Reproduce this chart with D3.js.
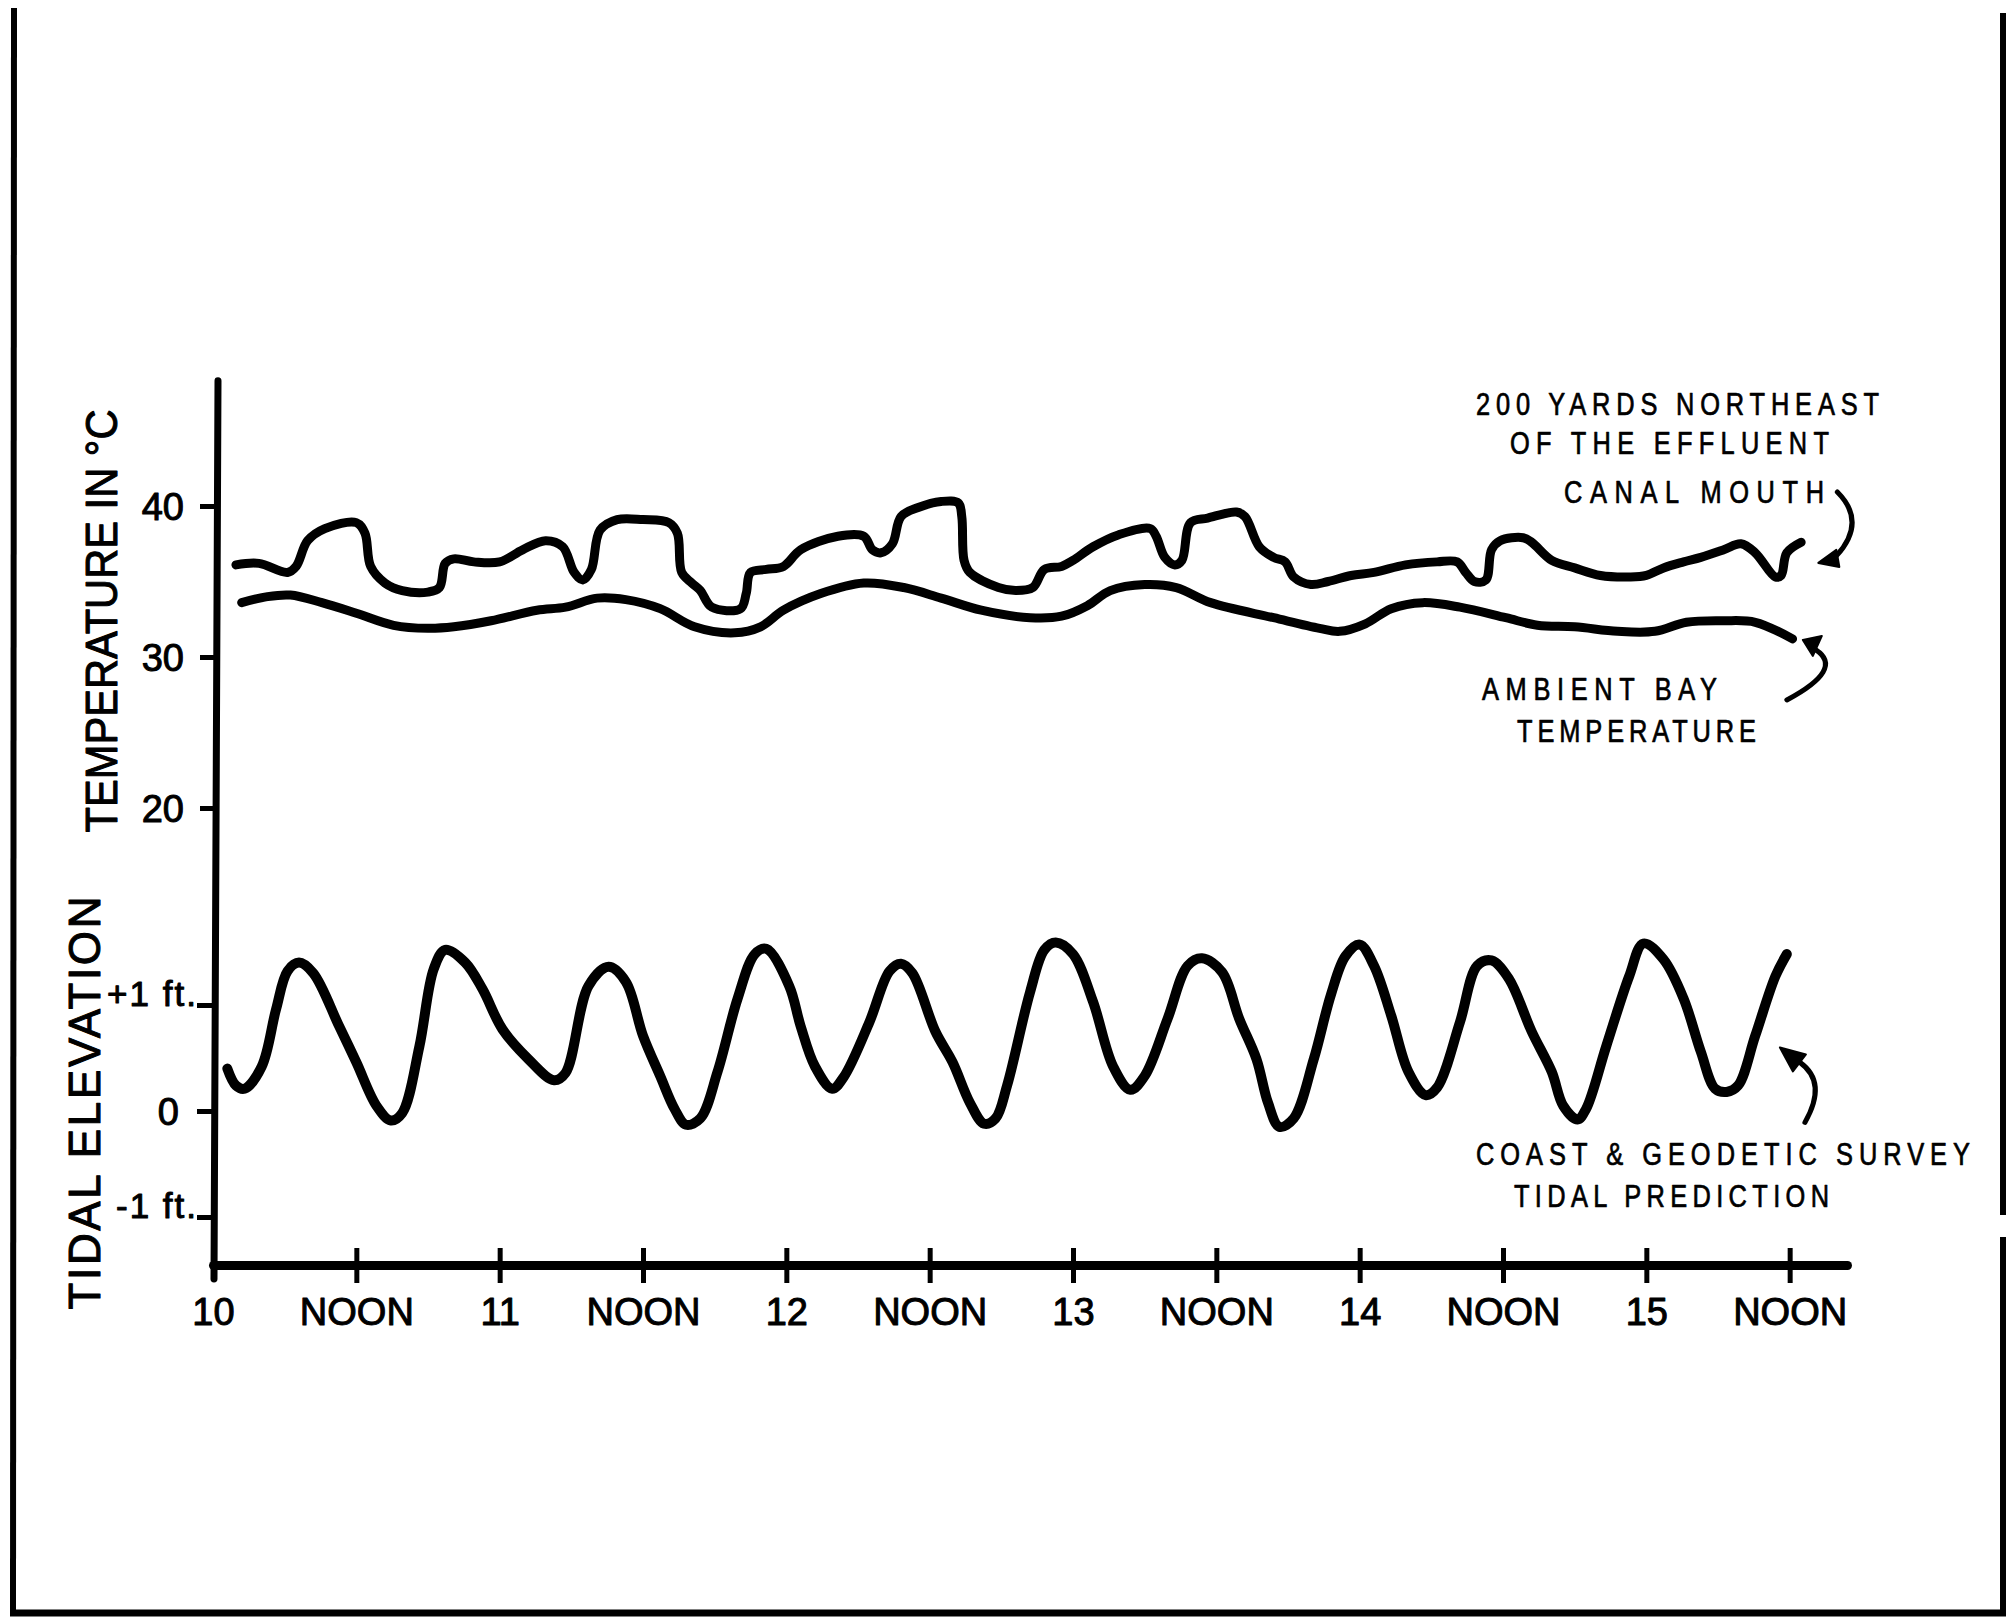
<!DOCTYPE html>
<html>
<head>
<meta charset="utf-8">
<script src="https://cdn.jsdelivr.net/npm/d3@7"></script>
<style>
  html, body { margin: 0; padding: 0; background: #fff; }
  svg { display: block; }
</style>
</head>
<body>
<script>
// ---- Data -------------------------------------------------------------
// Time is in days of the month (10.5 = noon on the 10th).
const xTickValues = [10, 10.5, 11, 11.5, 12, 12.5, 13, 13.5, 14, 14.5, 15, 15.5];
const xTickLabels = ["10", "NOON", "11", "NOON", "12", "NOON", "13", "NOON", "14", "NOON", "15", "NOON"];

const tempTickValues = [20, 30, 40];
const tideTickValues = [-1, 0, 1];
const tideTickLabels = ["-1 ft.", "0", "+1 ft."];

// Water temperature (°C), 200 yards northeast of the effluent canal mouth
const effluentTemp = [
  [10.08, 36.1], [10.16, 36.2], [10.26, 35.6], [10.29, 36.0], [10.33, 37.7], [10.39, 38.5],
  [10.50, 38.9], [10.53, 38.2], [10.55, 36.0], [10.60, 34.9], [10.66, 34.4], [10.75, 34.3],
  [10.79, 34.6], [10.81, 36.2], [10.84, 36.5], [10.91, 36.3], [11.00, 36.3], [11.08, 37.1],
  [11.16, 37.7], [11.22, 37.3], [11.26, 35.6], [11.29, 35.1], [11.32, 35.8], [11.35, 38.4],
  [11.41, 39.1], [11.50, 39.1], [11.59, 38.9], [11.62, 38.2], [11.635, 35.6], [11.67, 34.9],
  [11.70, 34.4], [11.74, 33.3], [11.84, 33.2], [11.86, 34.2], [11.875, 35.6], [11.93, 35.8],
  [11.99, 36.0], [12.05, 37.1], [12.18, 38.0], [12.27, 38.0], [12.30, 37.1], [12.33, 36.9],
  [12.37, 37.5], [12.40, 39.3], [12.46, 39.9], [12.54, 40.3], [12.60, 40.2], [12.612, 39.3],
  [12.62, 36.4], [12.64, 35.6], [12.74, 34.6], [12.80, 34.4], [12.86, 34.6], [12.90, 35.8],
  [12.96, 36.0], [13.00, 36.4], [13.07, 37.3], [13.16, 38.1], [13.27, 38.5], [13.29, 38.0],
  [13.32, 36.6], [13.355, 36.1], [13.38, 36.4], [13.41, 38.9], [13.47, 39.2], [13.57, 39.6],
  [13.60, 39.3], [13.65, 37.3], [13.70, 36.6], [13.74, 36.3], [13.77, 35.3], [13.83, 34.8],
  [13.89, 35.0], [13.97, 35.4], [14.05, 35.6], [14.16, 36.1], [14.27, 36.3], [14.34, 36.3],
  [14.37, 35.6], [14.40, 35.0], [14.44, 35.1], [14.46, 37.1], [14.49, 37.7], [14.57, 37.9],
  [14.60, 37.6], [14.67, 36.4], [14.75, 35.9], [14.84, 35.4], [14.94, 35.3], [15.00, 35.4],
  [15.06, 35.9], [15.13, 36.3], [15.19, 36.6], [15.27, 37.1], [15.33, 37.5], [15.38, 36.9],
  [15.45, 35.3], [15.47, 35.4], [15.49, 36.9], [15.54, 37.6]
];

// Ambient bay temperature (°C)
const ambientTemp = [
  [10.10, 33.6], [10.19, 34.0], [10.27, 34.1], [10.38, 33.6], [10.50, 32.9], [10.63, 32.1],
  [10.75, 31.9], [10.84, 32.0], [10.97, 32.4], [11.13, 33.1], [11.23, 33.3], [11.34, 33.9],
  [11.44, 33.8], [11.56, 33.2], [11.68, 32.0], [11.82, 31.6], [11.91, 32.0], [11.99, 33.1],
  [12.12, 34.2], [12.27, 34.9], [12.41, 34.6], [12.54, 33.9], [12.68, 33.1], [12.85, 32.6],
  [12.96, 32.7], [13.05, 33.4], [13.13, 34.4], [13.25, 34.8], [13.36, 34.6], [13.48, 33.6],
  [13.70, 32.6], [13.86, 31.9], [13.93, 31.7], [14.02, 32.2], [14.11, 33.2], [14.22, 33.6],
  [14.35, 33.3], [14.51, 32.6], [14.62, 32.1], [14.75, 32.0], [14.90, 31.7], [15.03, 31.7],
  [15.14, 32.3], [15.27, 32.4], [15.38, 32.3], [15.51, 31.2]
];

// Coast & Geodetic Survey tidal prediction (ft)
const tidalElevation = [
  [10.05, 0.40], [10.08, 0.24], [10.11, 0.21], [10.17, 0.42], [10.22, 0.96], [10.26, 1.32],
  [10.30, 1.40], [10.35, 1.30], [10.44, 0.80], [10.50, 0.46], [10.57, 0.05], [10.62, -0.09],
  [10.66, -0.02], [10.72, 0.61], [10.77, 1.34], [10.81, 1.52], [10.88, 1.40], [10.94, 1.15],
  [11.01, 0.77], [11.10, 0.49], [11.19, 0.29], [11.23, 0.36], [11.31, 1.18], [11.38, 1.36],
  [11.44, 1.22], [11.50, 0.71], [11.56, 0.33], [11.61, 0.02], [11.65, -0.13], [11.70, -0.07],
  [11.76, 0.37], [11.83, 1.06], [11.89, 1.48], [11.93, 1.53], [12.01, 1.18], [12.05, 0.80],
  [12.10, 0.42], [12.16, 0.21], [12.20, 0.32], [12.29, 0.84], [12.36, 1.32], [12.40, 1.39],
  [12.44, 1.30], [12.52, 0.75], [12.58, 0.46], [12.64, 0.08], [12.69, -0.12], [12.73, -0.07],
  [12.77, 0.24], [12.85, 1.12], [12.90, 1.52], [12.94, 1.59], [13.00, 1.48], [13.07, 1.03],
  [13.14, 0.42], [13.20, 0.20], [13.25, 0.33], [13.33, 0.87], [13.40, 1.37], [13.45, 1.44],
  [13.52, 1.31], [13.58, 0.87], [13.64, 0.49], [13.68, 0.08], [13.72, -0.15], [13.77, -0.07],
  [13.84, 0.49], [13.90, 1.10], [13.95, 1.46], [14.00, 1.57], [14.05, 1.37], [14.11, 0.90],
  [14.17, 0.37], [14.23, 0.15], [14.27, 0.22], [14.35, 0.84], [14.41, 1.37], [14.46, 1.42],
  [14.52, 1.25], [14.60, 0.75], [14.67, 0.37], [14.71, 0.05], [14.76, -0.08], [14.79, 0.02],
  [14.86, 0.61], [14.94, 1.27], [14.99, 1.58], [15.06, 1.43], [15.13, 1.06], [15.19, 0.56],
  [15.24, 0.21], [15.28, 0.18], [15.32, 0.24], [15.38, 0.71], [15.45, 1.27], [15.49, 1.48]
];

// ---- Layout -----------------------------------------------------------
const W = 2015, H = 1618;
const FONT = "'Liberation Sans', Arial, 'DejaVu Sans', sans-serif";

const x = d3.scaleLinear().domain([10, 15.7]).range([213, 1847]);
const yTemp = d3.scaleLinear().domain([20, 40]).range([808, 506]);
const yTide = d3.scaleLinear().domain([-1, 1]).range([1217, 1005]);

const xAxisY = 1265;
const yAxisX = 216;

const svg = d3.select("body").append("svg")
  .attr("width", W).attr("height", H)
  .attr("viewBox", `0 0 ${W} ${H}`);

svg.append("rect").attr("width", W).attr("height", H).attr("fill", "#fff");

// Slightly heavier lettering, as on an inked drawing
function inked(sel, w) {
  return sel.attr("fill", "#000").attr("stroke", "#000").attr("stroke-width", w)
    .attr("stroke-linejoin", "round");
}

// ---- Page frame -------------------------------------------------------
const frame = svg.append("g").attr("stroke", "#000").attr("stroke-width", 6).attr("fill", "none");
frame.append("line").attr("x1", 14).attr("y1", 8).attr("x2", 13).attr("y2", 1614);
frame.append("line").attr("x1", 2003).attr("y1", 13).attr("x2", 2003).attr("y2", 1215);
frame.append("line").attr("x1", 2003).attr("y1", 1237).attr("x2", 2003).attr("y2", 1614);
frame.append("line").attr("x1", 10).attr("y1", 1613).attr("x2", 2006).attr("y2", 1613)
  .attr("stroke-width", 7);

// ---- Axes -------------------------------------------------------------
// Shared vertical axis line running through both panels
svg.append("line")
  .attr("x1", yAxisX + 2).attr("y1", yTemp(48.3))
  .attr("x2", yAxisX - 2).attr("y2", xAxisY + 14)
  .attr("stroke", "#000").attr("stroke-width", 7).attr("stroke-linecap", "round");

// Temperature ticks
const tempAxis = svg.append("g")
  .attr("transform", `translate(${yAxisX},0)`)
  .call(d3.axisLeft(yTemp).tickValues(tempTickValues).tickSize(16).tickPadding(16).tickFormat(d3.format("d")));
tempAxis.select(".domain").remove();
tempAxis.selectAll(".tick line").attr("stroke", "#000").attr("stroke-width", 5);
inked(tempAxis.selectAll(".tick text"), 1)
  .attr("font-family", FONT).attr("font-size", 38)
  .attr("dy", "0.36em");

// Tide ticks
const tideAxis = svg.append("g")
  .attr("transform", `translate(${yAxisX - 3},0)`)
  .call(d3.axisLeft(yTide).tickValues(tideTickValues).tickSize(16).tickPadding(2)
    .tickFormat((d, i) => tideTickLabels[i]));
tideAxis.select(".domain").remove();
tideAxis.selectAll(".tick line").attr("stroke", "#000").attr("stroke-width", 5);
inked(tideAxis.selectAll(".tick text"), 1)
  .attr("font-family", FONT)
  .attr("font-size", d => d === 0 ? 38 : 35)
  .attr("x", d => d === 0 ? -34 : -17)
  .attr("dy", d => d === 0 ? "0.36em" : "0em")
  .each(function (d) {
    if (d !== 0) d3.select(this).attr("textLength", d > 0 ? 89 : 80).attr("lengthAdjust", "spacing");
  });

// Time axis
const xAxis = svg.append("g")
  .attr("transform", `translate(0,${xAxisY})`)
  .call(d3.axisBottom(x).tickValues(xTickValues).tickSizeOuter(0)
    .tickFormat((d, i) => xTickLabels[i]));
xAxis.select(".domain")
  .attr("stroke", "#000").attr("stroke-width", 9).attr("stroke-linecap", "round");
xAxis.selectAll(".tick line")
  .attr("stroke", "#000").attr("stroke-width", 5)
  .attr("y1", -17).attr("y2", 18)
  .filter(d => d === 10).remove();
inked(xAxis.selectAll(".tick text"), 1)
  .attr("font-family", FONT).attr("font-size", 38)
  .attr("y", 60).attr("dy", 0);

// Axis titles (rotated)
inked(svg.append("text"), 1)
  .attr("transform", `translate(117,621) rotate(-90)`)
  .attr("text-anchor", "middle")
  .attr("font-family", FONT).attr("font-size", 44)
  .attr("textLength", 423).attr("lengthAdjust", "spacingAndGlyphs")
  .text("TEMPERATURE IN °C");

inked(svg.append("text"), 1)
  .attr("transform", `translate(100,1103) rotate(-90)`)
  .attr("text-anchor", "middle")
  .attr("font-family", FONT).attr("font-size", 44)
  .attr("textLength", 413).attr("lengthAdjust", "spacing")
  .text("TIDAL ELEVATION");

// ---- Series -----------------------------------------------------------
const curve = d3.curveCatmullRom.alpha(0.5);
const tempLine = d3.line().x(d => x(d[0])).y(d => yTemp(d[1])).curve(curve);
const tideLine = d3.line().x(d => x(d[0])).y(d => yTide(d[1])).curve(curve);

const series = svg.append("g")
  .attr("fill", "none").attr("stroke", "#000")
  .attr("stroke-linecap", "round").attr("stroke-linejoin", "round");

series.append("path").attr("d", tempLine(effluentTemp)).attr("stroke-width", 9);
series.append("path").attr("d", tempLine(ambientTemp)).attr("stroke-width", 9);
series.append("path").attr("d", tideLine(tidalElevation)).attr("stroke-width", 10);

// ---- Annotations ------------------------------------------------------
// Hand-lettered notes: narrow glyphs, generous letter spacing
const noteScaleX = 0.82;
const notes = [
  { x: 1476, y: 415, len: 403, text: "200 YARDS NORTHEAST" },
  { x: 1510, y: 454, len: 319, text: "OF THE EFFLUENT" },
  { x: 1564, y: 503, len: 260, text: "CANAL MOUTH" },
  { x: 1482, y: 700, len: 235, text: "AMBIENT BAY" },
  { x: 1517, y: 742, len: 239, text: "TEMPERATURE" },
  { x: 1476, y: 1165, len: 494, text: "COAST & GEODETIC SURVEY" },
  { x: 1514, y: 1207, len: 315, text: "TIDAL PREDICTION" }
];
inked(svg.append("g").attr("transform", `scale(${noteScaleX},1)`)
  .selectAll("text").data(notes).join("text"), 0.7)
  .attr("x", d => d.x / noteScaleX).attr("y", d => d.y)
  .attr("font-family", FONT).attr("font-size", 31)
  .attr("textLength", d => d.len / noteScaleX).attr("lengthAdjust", "spacing")
  .text(d => d.text);

// Leader arrows: tip placed in data space, shape drawn as pixel offsets from tip
const arrows = [
  { tip: [x(15.60), yTemp(36.23)], stem: [[18, -7], [49, -41], [19, -71]], head: [[0, 0], [18, -13], [21, 4]] },
  { tip: [x(15.546), yTemp(31.13)], stem: [[13, 10], [42, 29], [-16, 60]], head: [[0, 0], [19, -4], [10, 16]] },
  { tip: [x(15.466), yTide(0.60)], stem: [[20, 15], [48, 35], [25, 75]], head: [[0, 0], [26, 7], [13, 24]] }
];
const ag = svg.append("g");
arrows.forEach(a => {
  const [tx, ty] = a.tip;
  const p = d3.path();
  p.moveTo(tx + a.stem[0][0], ty + a.stem[0][1]);
  p.quadraticCurveTo(tx + a.stem[1][0], ty + a.stem[1][1], tx + a.stem[2][0], ty + a.stem[2][1]);
  ag.append("path").attr("d", p.toString())
    .attr("fill", "none").attr("stroke", "#000").attr("stroke-width", 5).attr("stroke-linecap", "round");
  ag.append("path")
    .attr("d", "M" + a.head.map(h => [tx + h[0], ty + h[1]].join(",")).join("L") + "Z")
    .attr("fill", "#000").attr("stroke", "#000").attr("stroke-width", 2).attr("stroke-linejoin", "round");
});
</script>
</body>
</html>
